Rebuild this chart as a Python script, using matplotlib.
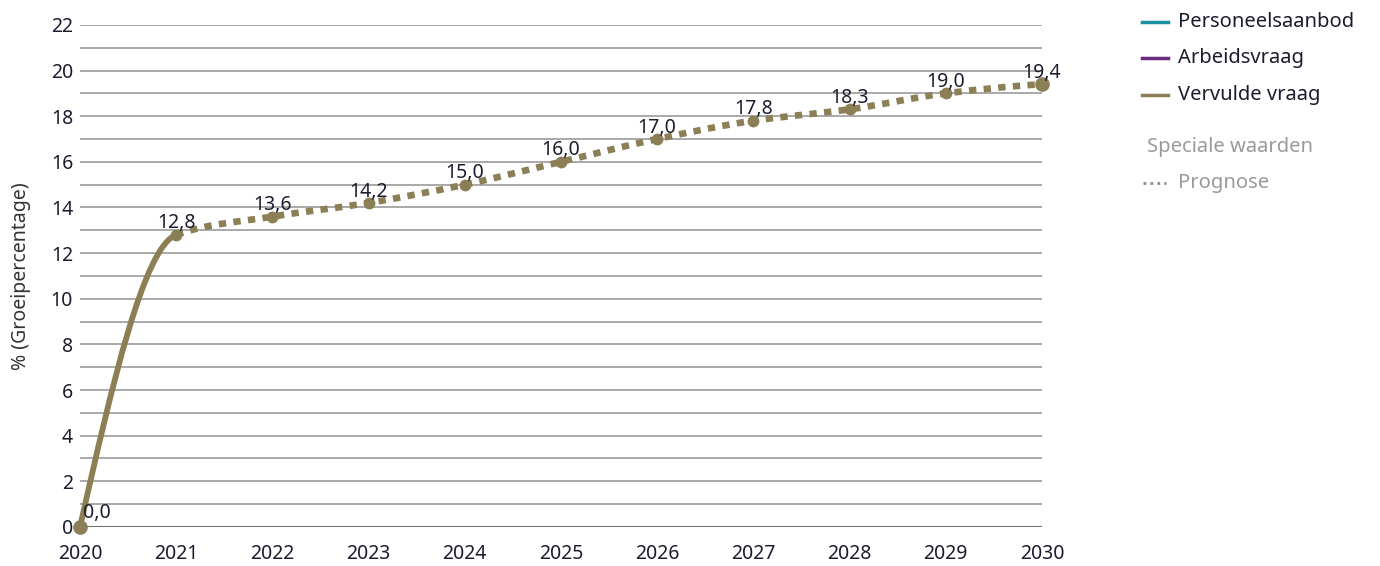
import matplotlib.pyplot as plt
import numpy as np
from matplotlib.lines import Line2D
from matplotlib.path import Path
from matplotlib.patches import PathPatch

plt.rcParams["font.family"] = ["Noto Sans", "DejaVu Sans"]

years = [2020, 2021, 2022, 2023, 2024, 2025, 2026, 2027, 2028, 2029, 2030]
vervulde_vraag = [0.0, 12.8, 13.6, 14.2, 15.0, 16.0, 17.0, 17.8, 18.3, 19.0, 19.4]
labels = ["0,0", "12,8", "13,6", "14,2", "15,0", "16,0", "17,0", "17,8", "18,3", "19,0", "19,4"]
first_forecast_year = 2021

legend_series = ["Personeelsaanbod", "Arbeidsvraag", "Vervulde vraag"]
legend_colors = ["#1b8fa3", "#6b2a7d", "#8c7f56"]

LINE_COLOR = "#8c7f56"
TEXT_COLOR = "#1c1c30"
GRID_COLOR = "#a3a3a3"
FS = 14


def pchip_slopes(x, y):
    # monotone cubic tangents (Fritsch-Carlson), only used to smooth the drawn line
    x = np.asarray(x, float)
    y = np.asarray(y, float)
    h = np.diff(x)
    d = np.diff(y) / h
    m = np.zeros_like(y)
    for i in range(1, len(y) - 1):
        if d[i - 1] * d[i] <= 0:
            m[i] = 0.0
        else:
            w1 = 2 * h[i] + h[i - 1]
            w2 = h[i] + 2 * h[i - 1]
            m[i] = (w1 + w2) / (w1 / d[i - 1] + w2 / d[i])
    m[0] = ((2 * h[0] + h[1]) * d[0] - h[0] * d[1]) / (h[0] + h[1])
    m[-1] = ((2 * h[-1] + h[-2]) * d[-1] - h[-1] * d[-2]) / (h[-1] + h[-2])
    return m


def bezier_path(x, y, m, i0, i1):
    verts = [(x[i0], y[i0])]
    codes = [Path.MOVETO]
    for i in range(i0, i1):
        h = x[i + 1] - x[i]
        verts += [
            (x[i] + h / 3, y[i] + m[i] * h / 3),
            (x[i + 1] - h / 3, y[i + 1] - m[i + 1] * h / 3),
            (x[i + 1], y[i + 1]),
        ]
        codes += [Path.CURVE4] * 3
    return Path(verts, codes)


fig = plt.figure(figsize=(13.8, 5.66), dpi=100)
ax = fig.add_axes([0.058, 0.069, 0.697, 0.887])

ax.set_xlim(2020, 2030)
ax.set_ylim(0, 22)
for v in range(1, 23):
    ax.axhline(v, color=GRID_COLOR, lw=1.3, zorder=1)
ax.axhline(0, color="#707070", lw=1.5, zorder=1)

xs = np.array(years, float)
ys = np.array(vervulde_vraag, float)
m = pchip_slopes(xs, ys)
split = years.index(first_forecast_year)

solid = PathPatch(bezier_path(xs, ys, m, 0, split), fill=False, edgecolor=LINE_COLOR,
                  lw=4.2, capstyle="round", zorder=3, clip_on=False)
ax.add_patch(solid)
dotted = PathPatch(bezier_path(xs, ys, m, split, len(xs) - 1), fill=False, edgecolor=LINE_COLOR,
                   lw=4.8, linestyle=(0, (1.1, 1.1)), capstyle="butt", zorder=3, clip_on=False)
ax.add_patch(dotted)

ax.plot(xs[1:-1], ys[1:-1], "o", color=LINE_COLOR, ms=7.5, zorder=4, clip_on=False)
ax.plot(xs[[0, -1]], ys[[0, -1]], "o", color=LINE_COLOR, ms=9.5, zorder=4, clip_on=False)

for i, (x, y, t) in enumerate(zip(years, vervulde_vraag, labels)):
    if i == 0:
        ax.annotate(t, (x, y), xytext=(2, 3), textcoords="offset points",
                    ha="left", va="bottom", fontsize=FS, color=TEXT_COLOR, zorder=5)
    else:
        ax.annotate(t, (x, y), xytext=(0, 1), textcoords="offset points",
                    ha="center", va="bottom", fontsize=FS, color=TEXT_COLOR, zorder=5)

ax.set_xticks(years)
ax.set_xticklabels([str(y) for y in years])
ax.set_yticks(range(0, 23, 2))
ax.tick_params(axis="both", length=0, labelsize=FS, labelcolor=TEXT_COLOR)
ax.tick_params(axis="y", pad=5)
ax.tick_params(axis="x", pad=12)
for s in ax.spines.values():
    s.set_visible(False)
ax.set_ylabel("% (Groeipercentage)", fontsize=14, color="#333333", labelpad=14)

# legend drawn at figure level
leg_x0, leg_x1, txt_x = 1142 / 1380, 1168 / 1380, 1178 / 1380
for name, col, ypx in zip(legend_series, legend_colors, [22, 58, 95]):
    yf = 1 - ypx / 566
    fig.add_artist(Line2D([leg_x0, leg_x1], [yf, yf], color=col, lw=2.5, transform=fig.transFigure))
    fig.text(txt_x, yf, name, va="center", ha="left", fontsize=14.5, color=TEXT_COLOR)

fig.text(1147 / 1380, 1 - 147 / 566, "Speciale waarden", va="center", ha="left",
         fontsize=14.5, color="#9a9a9a")
yf = 1 - 183 / 566
fig.add_artist(Line2D([1143 / 1380, 1166 / 1380], [yf, yf], color="#8a8a8a", lw=2,
                      linestyle=(0, (1, 1.5)), transform=fig.transFigure))
fig.text(txt_x, yf, "Prognose", va="center", ha="left", fontsize=14.5, color="#9a9a9a")

fig.savefig("out.png", dpi=100)
